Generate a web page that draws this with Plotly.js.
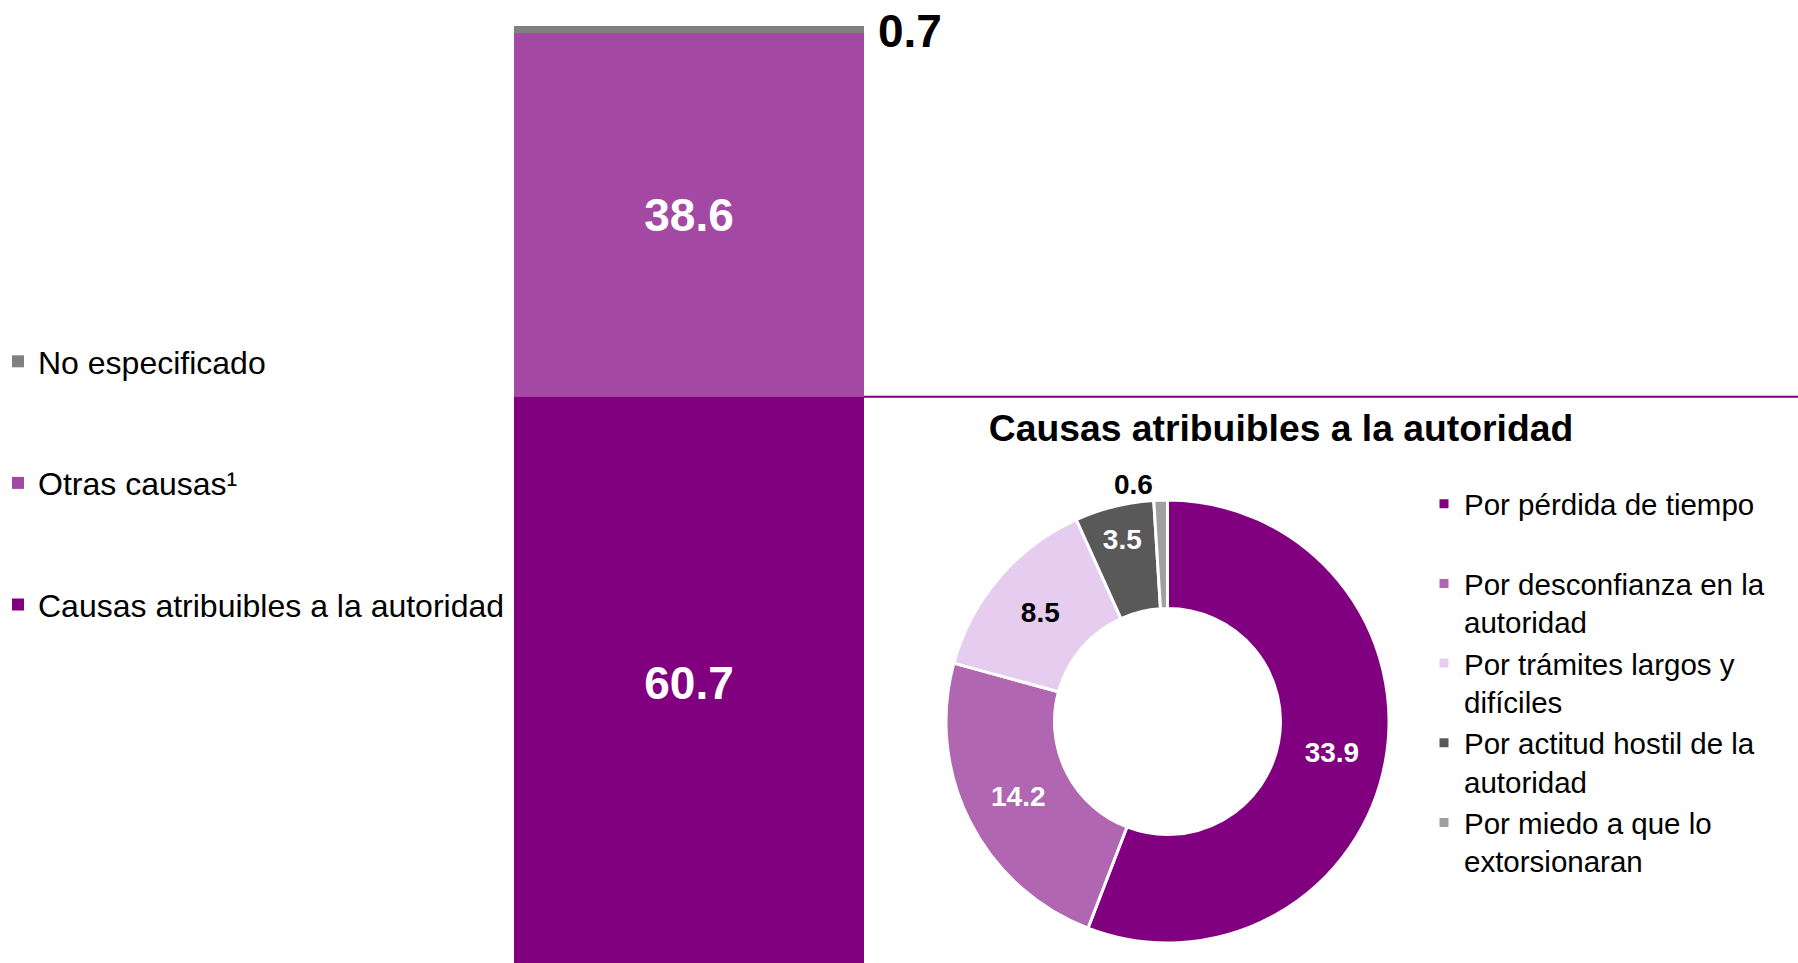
<!DOCTYPE html>
<html>
<head>
<meta charset="utf-8">
<script src="https://cdn.plot.ly/plotly-3.0.1.min.js"></script>
<style>html,body{margin:0;padding:0;background:#fff;}#chart{width:1798px;height:963px;}</style>
</head>
<body>
<div id="chart"></div>
<script>
// ---- data ----
const barCategory = ['Total'];
const barSeriesNames = ['Causas atribuibles a la autoridad', 'Otras causas\u00B9', 'No especificado'];
const barValues = [60.7, 38.6, 0.7];
const barColors = ['#800080', '#A349A4', '#808080'];
const barLegendRanks = [3, 2, 1];

const pieTitle = 'Causas atribuibles a la autoridad';
const pieLabels = [
  'Por pérdida de tiempo<br>\u00A0',
  'Por desconfianza en la<br>autoridad',
  'Por trámites largos y<br>difíciles',
  'Por actitud hostil de la<br>autoridad',
  'Por miedo a que lo<br>extorsionaran'
];
const pieValues = [33.9, 14.2, 8.5, 3.5, 0.6];
const pieColors = ['#800080', '#B066B0', '#E6CCEF', '#595959', '#A0A0A0'];
const pieTextColors = ['#FFFFFF', '#FFFFFF', '#000000', '#FFFFFF', '#000000'];
const pieTextPositions = ['inside', 'inside', 'inside', 'inside', 'outside'];

const FONT = 'Liberation Sans, Arial, sans-serif';

// ---- traces ----
const traces = barValues.map((v, i) => ({
  type: 'bar',
  x: barCategory,
  y: [v],
  name: barSeriesNames[i],
  legendgroup: 'g' + i,
  legendrank: barLegendRanks[i],
  legend: 'legend',
  marker: {color: barColors[i]},
  texttemplate: '%{y:.1f}',
  textposition: i === barValues.length - 1 ? 'none' : 'inside',
  insidetextanchor: 'middle',
  textfont: {family: FONT, size: 46, color: '#FFFFFF', weight: 'bold'},
  hoverinfo: 'name+y'
}));

traces.push({
  type: 'pie',
  labels: pieLabels,
  values: pieValues,
  sort: false,
  direction: 'clockwise',
  rotation: 0,
  hole: 0.51,
  domain: {x: [945.5 / 1798, 1389.5 / 1798], y: [1 - 943 / 963, 1 - 500 / 963]},
  marker: {colors: pieColors, line: {color: '#FFFFFF', width: 3}},
  texttemplate: '%{value:.1f}',
  textposition: pieTextPositions,
  insidetextorientation: 'horizontal',
  textfont: {family: FONT, size: 28, color: pieTextColors, weight: 'bold'},
  outsidetextfont: {family: FONT, size: 28, color: '#000000', weight: 'bold'},
  legend: 'legend2',
  showlegend: true
});

// stack top for the unspecified segment label
const cum = barValues.reduce((a, v) => { a.push((a.length ? a[a.length - 1] : 0) + v); return a; }, []);
const lastIdx = barValues.length - 1;

const layout = {
  width: 1798,
  height: 963,
  margin: {l: 0, r: 0, t: 0, b: 0, autoexpand: false},
  paper_bgcolor: '#FFFFFF',
  plot_bgcolor: 'rgba(0,0,0,0)',
  barmode: 'stack',
  bargap: 0,
  font: {family: FONT, color: '#000000'},
  showlegend: true,
  xaxis: {domain: [514 / 1798, 864 / 1798], range: [-0.5, 0.5], visible: false, fixedrange: true},
  yaxis: {domain: [0, 1], range: [0.67, 102.76], visible: false, fixedrange: true},
  title: {
    text: '<b>' + pieTitle + '</b>',
    x: 1281 / 1798, xanchor: 'center', xref: 'paper',
    y: 1 - 428 / 963, yanchor: 'middle', yref: 'paper',
    font: {family: FONT, size: 37.3, color: '#000000'}
  },
  legend: {
    x: -2 / 1798, xanchor: 'left', y: 1 - 334 / 963, yanchor: 'top',
    traceorder: 'grouped', tracegroupgap: 77,
    font: {family: FONT, size: 32, color: '#000000'},
    bgcolor: 'rgba(0,0,0,0)', borderwidth: 0
  },
  legend2: {
    x: 1424 / 1798, xanchor: 'left', y: 1 - 478 / 963, yanchor: 'top',
    valign: 'top',
    font: {family: FONT, size: 29.5, color: '#000000'},
    bgcolor: 'rgba(0,0,0,0)', borderwidth: 0
  },
  shapes: [{
    type: 'line', xref: 'paper', yref: 'y',
    x0: 864 / 1798, x1: 1, y0: cum[0], y1: cum[0],
    line: {color: '#800080', width: 2}
  }],
  annotations: [{
    xref: 'x', yref: 'y', x: 0.5, y: cum[lastIdx] - barValues[lastIdx] / 2,
    xanchor: 'left', yanchor: 'middle', xshift: 12, yshift: -2,
    text: '<b>' + barValues[lastIdx].toFixed(1) + '</b>',
    showarrow: false,
    font: {family: FONT, size: 46, color: '#000000'}
  }]
};

Plotly.newPlot('chart', traces, layout, {displayModeBar: false, staticPlot: true});
</script>
</body>
</html>
